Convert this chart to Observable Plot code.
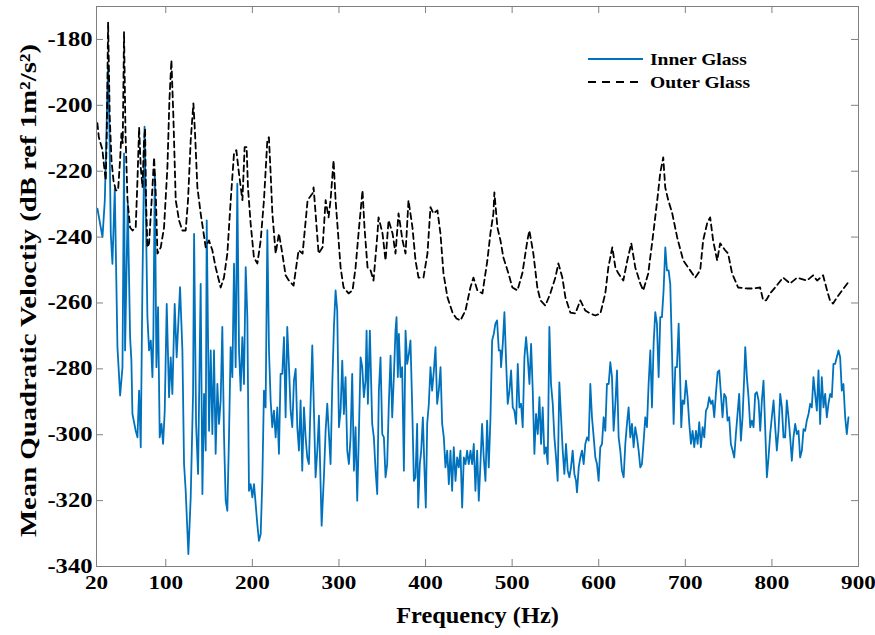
<!DOCTYPE html>
<html><head><meta charset="utf-8">
<script src="https://cdn.jsdelivr.net/npm/d3@7"></script>
<script src="https://cdn.jsdelivr.net/npm/@observablehq/plot@0.6"></script>
<style>body{margin:0;background:#fff;} svg{display:block;}</style>
</head><body><div id="chart"></div>
<script>
const xTicks = [20, 100, 200, 300, 400, 500, 600, 700, 800, 900];
const yTicks = [-340, -320, -300, -280, -260, -240, -220, -200, -180];
const seriesNames = ["Inner Glass", "Outer Glass"];
const xLabel = "Frequency (Hz)";
const yLabel = "Mean Quadratic Veloctiy (dB ref 1m²/s²)";

const innerFreq = [
21.1, 26.9, 29.6, 31.9, 33.4, 35, 36.5, 38.4, 41.1, 44.2,
47.3, 50, 51.8, 53, 56.1, 58.8, 60.3, 61.5, 65.3, 67.3,
69.2, 71.1, 73, 75.5, 78.8, 80.7, 82.7, 84.6, 85.7, 87.3,
89.2, 91.1, 93, 95, 96.9, 98.8, 101.1, 103.8, 105.7, 107.6,
110.3, 112.6, 116.5, 119.2, 121.1, 123, 126.1, 128.8, 131.5, 132.7,
135, 137.3, 140.3, 142.3, 144.2, 146.1, 147.3, 150, 151.9, 153.8,
155.7, 157.6, 159.6, 161.5, 163.4, 165.3, 167.3, 169.2, 171.1, 173,
174.9, 176.9, 178.8, 180.7, 182.6, 184.6, 186.5, 188.4, 190.3, 192.3,
194.2, 196.1, 198, 200, 201.9, 203.8, 205.7, 207.6, 209.6, 211.5,
213.4, 215.3, 217.3, 219.2, 221.1, 223, 224.9, 226.9, 228.8, 230.7,
232.6, 234.6, 236.5, 238.4, 240.3, 242.3, 244.2, 246.1, 248, 250,
251.9, 253.8, 255.7, 257.6, 259.6, 261.5, 263.4, 265.3, 267.3, 269.2,
271.1, 273, 275, 276.9, 278.8, 280, 282.6, 284.6, 286.5, 288.4,
290.3, 292.3, 294.2, 296.1, 298, 300, 301.9, 303.8, 305.7, 307.6,
309.6, 311.5, 313.4, 315.3, 317.3, 319.2, 321.1, 323, 325, 326.9,
328.8, 330.7, 331.9, 333.4, 335.7, 338.4, 340.3, 342.3, 344.2, 346.1,
348, 350, 351.9, 353.8, 355.7, 357.6, 359.6, 361.5, 363.4, 365.3,
366.5, 368, 369.2, 371.1, 373, 375, 376.9, 378.8, 380.7, 382.6,
384.6, 386.5, 388.4, 390.3, 391.5, 393.4, 395, 396.9, 398.8, 400.3,
401.9, 403.8, 405.7, 407.6, 409.6, 411.5, 413.4, 415.3, 417.3, 419.2,
421.1, 423, 425, 426.9, 428.8, 430.7, 432.6, 434.6, 436.5, 438.4,
440.3, 442.3, 444.2, 446.1, 448, 449.9, 451.9, 453.8, 455.7, 457.6,
459.6, 461.5, 463.4, 465.3, 467.2, 469.2, 471.1, 473, 475, 476.9,
478.8, 480.7, 482.6, 484.6, 486.5, 487.2, 489.2, 491.1, 493, 494.9,
496.9, 498.8, 500.7, 502.6, 504.6, 506.5, 508.4, 510.3, 512.2, 514.2,
516.1, 518, 520, 521.9, 523.8, 525.7, 527.6, 529.6, 531.5, 533.4,
535.3, 537.2, 539.2, 541.1, 543, 544.9, 546.9, 548.8, 550.7, 552.6,
554.5, 556.5, 558.4, 560.3, 562.2, 564.2, 566.1, 568, 569.9, 571.9,
573.8, 574.9, 576.9, 578.8, 580.7, 582.6, 584.5, 586.5, 588.4, 590.3,
592.2, 594.2, 596.1, 598, 599.9, 601.8, 603.8, 605.7, 607.6, 609.5,
611.5, 613.4, 615.3, 617.2, 619.2, 621.1, 623, 624.9, 626.8, 628.8,
630.7, 632.6, 634.5, 636.5, 638.4, 640.3, 642.2, 644.2, 646.1, 648,
649.9, 651.9, 653.8, 655.7, 657.6, 659.6, 661.5, 663.4, 665.3, 667.2,
669.2, 671.1, 673, 674.9, 676.9, 678.8, 680.7, 682.6, 684.6, 686.5,
688.4, 690.3, 692.3, 694.2, 695.3, 696.9, 698.8, 700.7, 702.6, 704.6,
706.5, 708.4, 710.3, 712.3, 714.2, 716.1, 718, 720, 721.9, 723.8,
725.7, 727.6, 729.6, 731.5, 733.4, 735.3, 737.3, 739.2, 741.1, 743,
744.9, 746.9, 748.8, 750.7, 752.6, 754.6, 756.5, 758.4, 760.3, 762.2,
764.2, 766.1, 768, 769.2, 771.1, 773, 775, 776.9, 778.8, 780.7,
782.6, 784.6, 786.5, 788.4, 790.3, 792.2, 794.2, 796.1, 798, 799.9,
801.9, 803.8, 805.7, 807.6, 809.6, 811.5, 813.4, 815.3, 817.2, 819.2,
821.1, 823, 824.9, 826.9, 828.8, 830.7, 832.6, 834.6, 836.5, 838.4,
840.3, 842.3, 844.2, 846.1, 848, 849.9, 851.9, 853.8, 855.7, 857.6,
859.6, 861.5, 863.4, 865.3, 867.3, 869.2, 871.1, 873, 874.9, 876.9,
878.8, 880.7, 882.6, 884.6, 886.5, 888.4
];
const innerDb = [
-231.4, -240, -228.8, -203.5, -188.3, -208.6, -239, -248.1, -225.3, -273.4,
-288.1, -279.5, -214.6, -274.4, -229.8, -270.4, -277.5, -293.7, -298.8, -300.8,
-286.6, -303.8, -255.2, -206.5, -264.3, -274.4, -271.4, -282.5, -269.4, -220.7,
-279.5, -261.3, -300.8, -296.7, -302.8, -292.7, -260.3, -288.6, -276.5, -287.6,
-260.3, -276.5, -255.2, -274.4, -308.9, -317, -336.2, -319, -287.6, -239,
-296.7, -311.9, -254.2, -318, -287.6, -304.8, -234.9, -298.8, -274.4, -299.8,
-274.4, -305.8, -284.6, -296.7, -289.6, -267.3, -300.8, -320, -323.1, -300.8,
-273.4, -282.5, -248.1, -279.5, -223.8, -274.4, -286.6, -270.4, -284.6, -249.1,
-264.3, -317, -315, -319, -315, -321, -327.1, -332.2, -330.2, -314,
-286.6, -291.7, -237.9, -274.4, -289.6, -297.7, -292.7, -300.8, -291.7, -305.8,
-281.5, -281.5, -270.4, -294.7, -267.3, -279.5, -292.7, -297.7, -283.6, -280,
-297.7, -304.8, -289.6, -310.9, -291.7, -300.8, -306.9, -308.9, -289.6, -272.9,
-292.7, -312.9, -304.8, -294.2, -315, -327.6, -312.9, -298.8, -290.6, -299.8,
-308.9, -284.6, -267.3, -256.2, -262.3, -297.7, -292.7, -277.5, -293.7, -282.5,
-304.8, -308.9, -300.8, -281.5, -310.9, -297.7, -320, -299.8, -276.5, -279.5,
-288.6, -283.6, -268.4, -290.6, -268.4, -296.7, -300.8, -310.9, -318, -286.6,
-276.5, -299.8, -300.8, -312.9, -308.9, -290.6, -276, -294.7, -282.5, -268.4,
-264.3, -282.5, -269.4, -282.5, -279.5, -310.9, -268.4, -278.5, -275.5, -271.4,
-291.7, -314, -312.9, -296.7, -322.1, -308.9, -304.8, -294.7, -310.9, -322.1,
-296.7, -290.6, -279.5, -286.6, -280.5, -273.4, -290.6, -286.6, -279.5, -296.7,
-300.8, -309.9, -304.8, -315, -304.8, -317, -303.8, -314, -306.9, -309.9,
-304.8, -322.1, -306.9, -308.9, -304.8, -308.9, -304.8, -308.9, -302.8, -317,
-304.8, -320, -308.9, -296.7, -306.9, -314, -295.7, -309.9, -294.7, -271.4,
-269.4, -266.3, -265.3, -274.4, -274.4, -279.5, -272.4, -262.8, -277.5, -290.6,
-286.6, -280.5, -291.7, -292.7, -296.7, -278.5, -291.7, -290.6, -297.7, -276.5,
-270.4, -276.5, -284.6, -272.4, -286.6, -305.8, -293.7, -299.8, -288.6, -302.8,
-291.7, -305.8, -303.8, -308.9, -267.3, -284.6, -290.6, -300.8, -306.9, -314,
-284.1, -294.7, -304.8, -311.9, -302.8, -310.9, -312.9, -309.9, -304.8, -311.9,
-314, -317.5, -309.9, -306.9, -304.8, -308.9, -302.8, -300.8, -301.8, -284.6,
-294.7, -300.8, -306.9, -308.9, -314, -303.8, -302.8, -294.7, -298.8, -284.6,
-284.6, -278, -282.5, -298.8, -290.6, -280.5, -300.8, -304.8, -310.9, -312.9,
-302.8, -296.7, -291.7, -300.8, -296.7, -303.8, -297.7, -300.8, -304.8, -309.9,
-308.9, -301.8, -294.7, -297.7, -284.6, -274.4, -291.7, -272.4, -262.8, -266.3,
-282.5, -264.3, -264.3, -256.2, -243.1, -250.1, -250.1, -254.2, -274.4, -296.7,
-279.5, -279.5, -266.3, -284.6, -297.7, -289.6, -290.6, -283.6, -288.6, -296.7,
-302.8, -298.8, -303.8, -298.8, -302.8, -296.2, -303.8, -297.7, -300.8, -292.7,
-291.7, -288.6, -290.6, -289.6, -294.7, -287.6, -281, -280.5, -287.6, -294.7,
-287.6, -288.6, -295.7, -294.7, -302.8, -304.8, -306.9, -299.8, -293.7, -287.6,
-301.8, -294.7, -282.5, -273.4, -282.5, -288.6, -297.7, -295.7, -297.7, -287.6,
-287.1, -289.6, -298.8, -289.6, -283.6, -297.7, -312.9, -306.9, -299.8, -294.7,
-289.6, -297.7, -304.8, -298.8, -287.6, -291.7, -300.8, -300.8, -289.6, -294.7,
-300.8, -307.9, -300.8, -296.7, -299.8, -298.8, -306.9, -304.8, -298.3, -298.8,
-295.7, -293.7, -290.6, -291.7, -282.5, -287.6, -292.7, -280.5, -296.7, -282.5,
-291.7, -287.6, -294.7, -290.6, -287.6, -288.6, -278.5, -278.5, -276.5, -274.4,
-276.5, -286.6, -284.6, -294.7, -299.8, -294.7
];

const outerFreq = [
21, 22.7, 26.9, 28.4, 30.7, 31.9, 33.4, 35.3, 37.3, 39.6,
42.3, 44.9, 47.2, 48.8, 50.3, 51.8, 53.5, 55.8, 58.8, 61.5,
65.3, 67.3, 69.2, 71.1, 73.1, 74.9, 76.1, 77.2, 78.8, 80.7,
84.6, 86.5, 88.4, 90.4, 94.2, 98, 101.9, 104.2, 106.5, 108.8,
111.5, 115.3, 119.2, 123, 125.7, 128.8, 131.9, 133.8, 136.5, 140.3,
146.1, 149.9, 153.8, 157.6, 163.4, 167.2, 171.1, 175, 178.8, 181.5,
184.5, 188.5, 191.1, 193.4, 194.9, 198, 201.8, 205.8, 209.6, 213.4,
217.3, 219.1, 221.1, 223.1, 226.9, 230.7, 234.6, 238.4, 242.2, 247.6,
253.4, 258, 263.8, 269.6, 270.7, 273, 276.5, 281.1, 284.6, 288,
290.3, 293.8, 296.1, 301.9, 305.3, 311.1, 315.7, 319.2, 322.6, 327.2,
329.5, 333, 336.5, 339.9, 344.5, 345.7, 350.3, 353.8, 357.3, 361.9,
365.3, 368.8, 373.4, 376.9, 380.3, 384.9, 388.4, 391.9, 397.6, 402.2,
405.7, 409.1, 413.7, 417.2, 420.7, 425.3, 431.1, 435.7, 440.3, 446.1,
451.8, 455.3, 459.9, 465.7, 471.4, 474.9, 478.4, 479.5, 483, 486.5,
489.9, 495.7, 500.3, 506.1, 511.8, 517.6, 519.9, 524.5, 529.1, 532.6,
538.4, 544.1, 549.9, 553.4, 558, 561.5, 567.2, 573, 578.8, 584.5,
590.3, 596.1, 601.9, 607.6, 611.1, 615.7, 619.2, 622.6, 628.4, 633,
637.6, 642.2, 648, 651.4, 657.2, 663, 667.6, 671, 674.5, 676.8,
680.3, 684.9, 690.6, 697.6, 705.6, 711.4, 717.2, 720.6, 725.2, 728.7,
732.1, 736.8, 740.2, 746, 749.4, 754, 761, 771.4, 778.3, 786.4,
789.9, 793.3, 797.9, 803.7, 812.9, 821, 829.1, 840.6, 847.5, 852.2,
859.1, 863.7, 867.1, 870.6, 875.2, 881, 887.9
];
const outerDb = [
-205.4, -209.7, -213.6, -217.6, -222.8, -208.5, -174.7, -203.6, -216.7, -222.8,
-225.8, -225.8, -216.7, -208.5, -211.5, -177.8, -208.5, -228.8, -237.1, -238,
-237.1, -222.8, -206.7, -218.8, -224.9, -210.6, -207, -228.8, -243.1, -241.9,
-224.9, -215.8, -226.7, -245, -243.1, -237.1, -218.8, -198.5, -186.3, -203.6,
-228.8, -234.9, -238, -238, -228.8, -210.6, -199.4, -208.5, -224.9, -232.8,
-243.1, -241, -244, -249.2, -255.3, -252.3, -245, -228.8, -214.6, -213.6,
-220.6, -228.8, -212.7, -212.7, -224.9, -235.8, -246.2, -248, -241, -228.8,
-210.6, -209.7, -220.6, -232.8, -245, -238.9, -245, -251.6, -253.2, -254.7,
-244, -245, -228.8, -226.7, -224.9, -232.8, -245, -243.1, -228.8, -234,
-228.8, -216.7, -228.8, -249.2, -255.3, -257.1, -256.2, -249.2, -238.9, -225.8,
-237.1, -249.2, -250.1, -253.2, -238.9, -234, -238.9, -247.1, -234.9, -238.9,
-245, -232.8, -241, -245, -228.8, -237.1, -247.1, -252.3, -252.3, -245,
-230.9, -232.8, -231.9, -238.9, -251, -258.3, -262.9, -264.7, -265.3, -262.3,
-255.3, -252.3, -256.2, -257.1, -247.1, -238.9, -232.8, -226.4, -237.1, -241,
-246.2, -251, -255.3, -256.2, -251, -241, -238, -245, -255.3, -259.2,
-260.8, -257.1, -252.3, -248, -252.3, -258.3, -262.9, -263.2, -259.2, -262.3,
-263.2, -263.8, -263.2, -257.1, -249.2, -243.1, -249.2, -251, -253.2, -247.1,
-241.9, -249.2, -254.1, -256.2, -251, -238.9, -228.8, -220.6, -215.8, -224.9,
-228.8, -232.8, -240.1, -247.1, -250.1, -252.3, -250.1, -241, -235.8, -234,
-241, -247.1, -241.9, -244, -245, -251, -255.3, -255.6, -255.6, -255.3,
-259.2, -259.2, -257.1, -255.3, -252.3, -254.1, -252.3, -253.2, -251.6, -253.2,
-251.6, -256.2, -259.2, -260.2, -258.3, -256.2, -253.8
];

const inner = innerFreq.map((f, i) => ({f, db: innerDb[i], series: seriesNames[0]}));
const outer = outerFreq.map((f, i) => ({f, db: outerDb[i], series: seriesNames[1]}));

const W = 875, H = 635, mL = 96, mR = 17, mT = 6, mB = 69;
const fw = W - mL - mR, fh = H - mT - mB;
const FONT = "'Liberation Serif', 'Times New Roman', serif";
const blue = "#0072BD";
const axisGray = "#808080";

const chart = Plot.plot({
  width: W, height: H,
  marginLeft: mL, marginRight: mR, marginTop: mT, marginBottom: mB,
  style: {fontFamily: FONT, background: "white", color: "black"},
  x: {domain: [20, 900]},
  y: {domain: [-340, -170]},
  marks: [
    Plot.line(inner, {x: "f", y: "db", stroke: blue, strokeWidth: 1.8}),
    Plot.line(outer, {x: "f", y: "db", stroke: "black", strokeWidth: 1.8, strokeDasharray: "6,4"}),
    Plot.frame({stroke: axisGray, strokeWidth: 1}),
    Plot.tickX(xTicks, {x: d => d, stroke: axisGray, insetTop: fh - 7}),
    Plot.tickX(xTicks, {x: d => d, stroke: axisGray, insetBottom: fh - 7}),
    Plot.tickY(yTicks, {y: d => d, stroke: axisGray, insetRight: fw - 7}),
    Plot.tickY(yTicks, {y: d => d, stroke: axisGray, insetLeft: fw - 7}),
    Plot.axisX(xTicks, {tickSize: 0, tickPadding: 9, fontSize: 19, fontWeight: "bold", fill: "black", label: null, tickFormat: d => String(d)}),
    Plot.axisY(yTicks, {tickSize: 0, tickPadding: 4, fontSize: 20, fontWeight: "bold", fill: "black", label: null, tickFormat: d => String(d)}),
    Plot.text([xLabel], {frameAnchor: "bottom", dy: 49, lineAnchor: "middle", textAnchor: "middle", fontSize: 23, fontWeight: "bold", fill: "black"}),
    Plot.text([yLabel], {frameAnchor: "left", dx: -68, dy: 4, rotate: -90, lineAnchor: "middle", textAnchor: "middle", fontSize: 23, fontWeight: "bold", fill: "black"})
  ]
});

function stretch(el, s) {
  const t = el.getAttribute("transform");
  if (t) el.setAttribute("transform", t + ` scale(${s},1)`);
  else {
    const x = +(el.getAttribute("x") || 0);
    el.removeAttribute("x");
    el.setAttribute("transform", `translate(${x},0) scale(${s},1)`);
  }
}
chart.querySelectorAll('g[aria-label="x-axis tick label"] text').forEach(el => stretch(el, 1.22));
chart.querySelectorAll('g[aria-label="y-axis tick label"] text').forEach(el => stretch(el, 1.23));
chart.querySelectorAll('g[aria-label="text"] text').forEach(el => {
  if (el.textContent === xLabel) stretch(el, 1.06);
  else if (el.textContent === yLabel) stretch(el, 1.25);
});

// legend (inside the plot, top right, no box)
const svg = d3.select(chart);
const leg = svg.append("g").attr("font-family", FONT).attr("font-weight", "bold")
  .attr("font-size", 17).attr("text-anchor", "start");
seriesNames.forEach((name, i) => {
  const y = 59 + i * 23;
  leg.append("line").attr("x1", 588).attr("x2", 643).attr("y1", y).attr("y2", y)
    .attr("stroke", i === 0 ? blue : "black").attr("stroke-width", 1.8)
    .attr("stroke-dasharray", i === 0 ? null : "8,6");
  leg.append("text").attr("transform", `translate(650,${y}) scale(1.15,1)`).attr("dy", "0.35em")
    .attr("text-anchor", "start").attr("fill", "black").text(name);
});

document.getElementById("chart").appendChild(chart);
</script>
</body></html>
